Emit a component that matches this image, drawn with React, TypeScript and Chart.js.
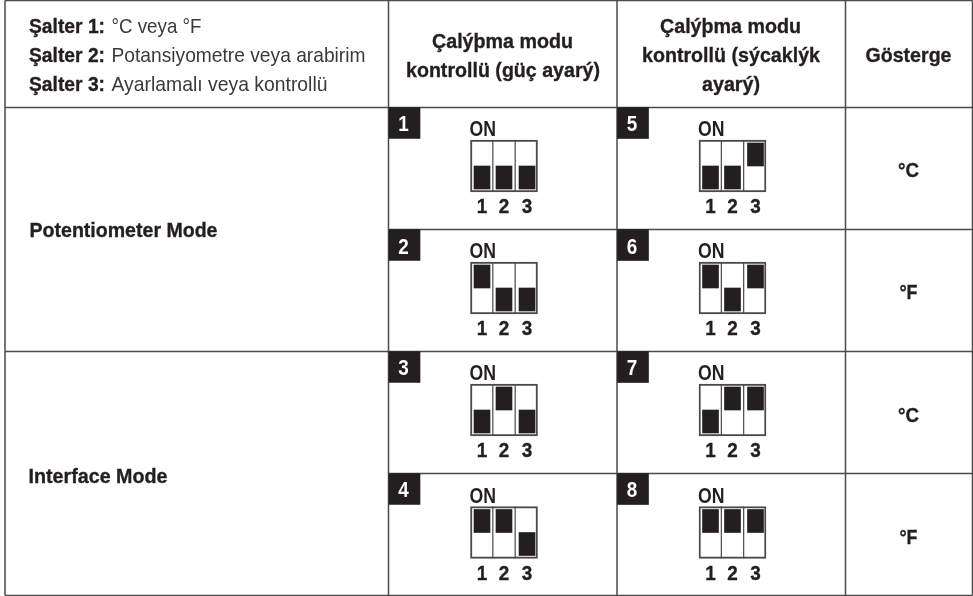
import React, { useEffect, useRef } from "react";
import { Chart, registerables } from "chart.js";

Chart.register(...registerables);

// ---- data ----
const caseNumbers = [1, 2, 3, 4, 5, 6, 7, 8];
// state of switches 1, 2, 3 for each case (1 = up / ON)
const switch1 = [0, 1, 0, 1, 0, 1, 0, 1];
const switch2 = [0, 0, 1, 1, 0, 0, 1, 1];
const switch3 = [0, 0, 0, 0, 1, 1, 1, 1];
const switchLabels = ["1", "2", "3"];
const onLabel = "ON";
const legendLines = [
  ["Şalter 1:", "°C veya °F"],
  ["Şalter 2:", "Potansiyometre veya arabirim"],
  ["Şalter 3:", "Ayarlamalı veya kontrollü"],
];
const powerHeader = ["Çalýþma modu", "kontrollü (güç ayarý)"];
const tempHeader = ["Çalýþma modu", "kontrollü (sýcaklýk", "ayarý)"];
const indicatorHeader = "Gösterge";
const modeLabels = ["Potentiometer Mode", "Interface Mode"];
const indicatorLabels = ["°C", "°F", "°C", "°F"];

// ---- layout of the table, in the units of the two linear scales ----
const W = 973;
const H = 596;
const colX = [5, 388.5, 617, 845.5, 972.5];
const rowY = [0.5, 107.5, 229.5, 351.5, 473.5, 595.5];
const boxLeft = [470.5, 699];
const boxW = 67;
const boxTop = [140, 262, 384, 506.5];
const boxH = 52;
const sliderH = 23;
const sliderOffsets = [11.5, 33.5, 56.5];
const badgeBase = [131, 254, 375, 497];
const dark = "#231f20";
const rule = "#4a4a4a";
const FAM = '"Liberation Sans", Arial, sans-serif';

const cellOf = (n: number) => ({ col: n <= 4 ? 0 : 1, row: (n - 1) % 4 });

const sliders = caseNumbers.flatMap((n, i) => {
  const { col, row } = cellOf(n);
  return [switch1[i], switch2[i], switch3[i]].map((on, s) => {
    const top = boxTop[row] + (on ? 3 : 26);
    return { x: boxLeft[col] + sliderOffsets[s], y: [top, top + sliderH] };
  });
});

const boxes = caseNumbers.map((n) => {
  const { col, row } = cellOf(n);
  return { x: boxLeft[col] + boxW / 2, y: [boxTop[row], boxTop[row] + boxH] };
});

const badges = caseNumbers.map((n) => {
  const { col, row } = cellOf(n);
  return { x: colX[col + 1] + 16, y: [rowY[row + 1], rowY[row + 1] + 31] };
});

const gap = { x: 0, y: null as any };
const seg = (x1: number, y1: number, x2: number, y2: number) => [{ x: x1, y: y1 }, { x: x2, y: y2 }, gap];

const tableRules = [
  ...seg(colX[0], rowY[0], colX[4], rowY[0]),
  ...seg(colX[0], rowY[1], colX[4], rowY[1]),
  ...seg(colX[1], rowY[2], colX[4], rowY[2]),
  ...seg(colX[0], rowY[3], colX[4], rowY[3]),
  ...seg(colX[1], rowY[4], colX[4], rowY[4]),
  ...seg(colX[0], rowY[5], colX[4], rowY[5]),
  ...colX.flatMap((x) => seg(x, rowY[0], x, rowY[5])),
];

const boxDividers = caseNumbers.flatMap((n) => {
  const { col, row } = cellOf(n);
  return [1, 2].flatMap((k) => {
    const x = boxLeft[col] + (boxW * k) / 3;
    return seg(x, boxTop[row], x, boxTop[row] + boxH);
  });
});

const tablePlugin = {
  id: "tableText",
  afterDraw(chart: any) {
    const { ctx } = chart;
    const put = (text: string, x: number, y: number, font: string, color: string, width: number, align: any = "left", heavy = 0) => {
      ctx.font = font;
      ctx.fillStyle = color;
      ctx.strokeStyle = color;
      ctx.lineWidth = heavy;
      ctx.textAlign = "left";
      ctx.textBaseline = "alphabetic";
      const natural = ctx.measureText(text).width;
      const left = align === "center" ? x - width / 2 : x;
      ctx.save();
      ctx.translate(left, y);
      ctx.scale(width / natural, 1);
      ctx.fillText(text, 0, 0);
      if (heavy > 0) ctx.strokeText(text, 0, 0);
      ctx.restore();
    };
    const bold = `bold 21px ${FAM}`;
    const reg = `21px ${FAM}`;
    const head = dark;
    const hv = 0.35;
    const legendW = [[76, 90], [76, 254], [76, 216]];
    const legendBase = [33, 62, 91];
    legendLines.forEach(([a, b], i) => {
      put(a, 29, legendBase[i], bold, head, legendW[i][0], "left", hv);
      put(b, 111.5, legendBase[i], reg, "#3a3a3a", legendW[i][1]);
    });
    put(powerHeader[0], 502.5, 48, bold, head, 141, "center", hv);
    put(powerHeader[1], 503, 77, bold, head, 194, "center", hv);
    put(tempHeader[0], 730.5, 33, bold, head, 141, "center", hv);
    put(tempHeader[1], 731, 62, bold, head, 178, "center", hv);
    put(tempHeader[2], 731, 91, bold, head, 58, "center", hv);
    put(indicatorHeader, 908.5, 62, bold, head, 86, "center", hv);
    put(modeLabels[0], 29.5, 237, bold, head, 188, "left", hv);
    put(modeLabels[1], 28.5, 483, bold, head, 139, "left", hv);
    const indicatorBase = [177, 298.5, 421.5, 544];
    indicatorLabels.forEach((t, i) => put(t, 908.5, indicatorBase[i], bold, head, t === "°C" ? 21 : 18, "center", hv));
    caseNumbers.forEach((n) => {
      const { col, row } = cellOf(n);
      put(String(n), colX[col + 1] + 15, badgeBase[row], `bold 22px ${FAM}`, "#fff", 10.5, "center");
      put(onLabel, boxLeft[col] - 1, boxTop[row] - 4, `bold 22px ${FAM}`, dark, 26.5);
      switchLabels.forEach((t, s) => {
        put(t, boxLeft[col] + sliderOffsets[s], boxTop[row] + 73, `bold 21px ${FAM}`, dark, 10.5, "center", hv);
      });
    });
  },
};

export default function App() {
  const ref = useRef<HTMLCanvasElement>(null);
  useEffect(() => {
    const chart = new Chart(ref.current as HTMLCanvasElement, {
      type: "bar",
      data: {
        datasets: [
          { type: "scatter", label: "rules", data: tableRules, showLine: true, spanGaps: false, borderColor: rule, borderWidth: 1.5, pointRadius: 0, order: 5 },
          { type: "scatter", label: "dividers", data: boxDividers, showLine: true, spanGaps: false, borderColor: rule, borderWidth: 1.2, pointRadius: 0, order: 3 },
          { label: "boxes", data: boxes, barThickness: boxW, grouped: false, backgroundColor: "rgba(255,255,255,0)", borderColor: rule, borderWidth: 1.3, borderSkipped: false, order: 4 },
          { label: "badges", data: badges, barThickness: 31, grouped: false, backgroundColor: dark, borderWidth: 0, order: 2 },
          { label: "sliders", data: sliders, barThickness: 16, grouped: false, backgroundColor: dark, borderWidth: 0, order: 1 },
        ] as any,
      },
      options: {
        responsive: false,
        animation: false,
        events: [],
        layout: { padding: 0 },
        plugins: { legend: { display: false }, tooltip: { enabled: false }, title: { display: false } },
        scales: {
          x: { type: "linear", min: 0, max: W, display: false, offset: false },
          y: { type: "linear", min: 0, max: H, reverse: true, display: false },
        },
      },
      plugins: [tablePlugin],
    });
    return () => chart.destroy();
  }, []);
  return (
    <div style={{ position: "absolute", left: 0, top: 0, width: W, height: H, background: "#fff" }}>
      <canvas ref={ref} width={W} height={H} style={{ display: "block" }} />
    </div>
  );
}
